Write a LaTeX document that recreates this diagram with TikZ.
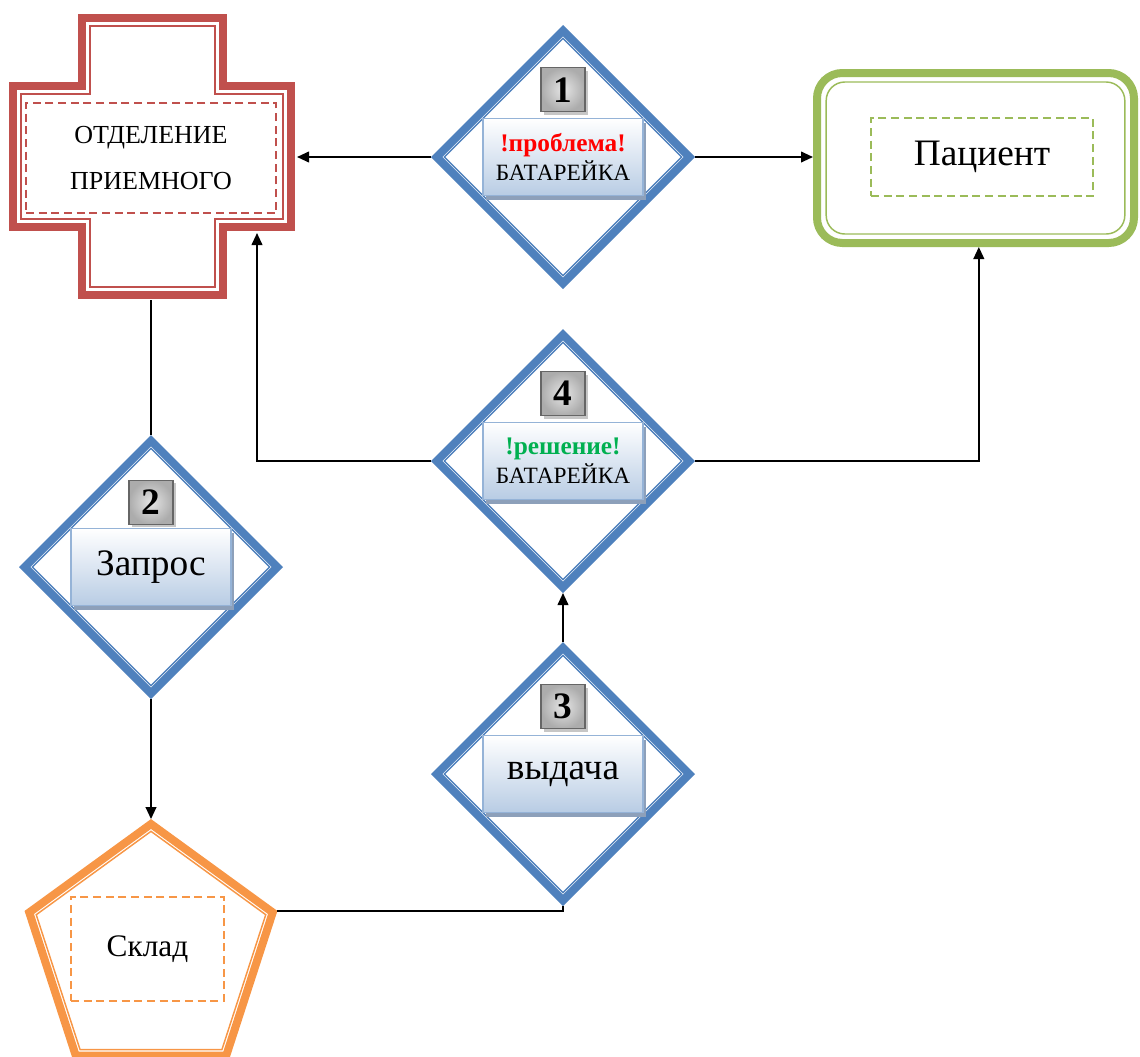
\documentclass[tikz,border=0pt]{standalone}
\usepackage{fontspec}
\setmainfont{Liberation Serif}
\usetikzlibrary{positioning,shapes.geometric,shadows,arrows.meta}
\definecolor{crossred}{HTML}{C0504D}
\definecolor{rhblue}{HTML}{4F81BD}
\definecolor{pacgreen}{HTML}{9BBB59}
\definecolor{pentorange}{HTML}{F79646}
\definecolor{lblborder}{HTML}{95B3D7}
\definecolor{lblfill}{HTML}{B8CCE4}
\definecolor{lblshadow}{HTML}{8DA0BA}
\definecolor{okgreen}{HTML}{00B050}

\begin{document}
\begin{tikzpicture}[x=0.75pt, y=-0.75pt, >={Triangle[length=9pt,width=8pt]},
  rhomb/.style={diamond, aspect=1, draw=rhblue, line width=6pt, minimum size=192pt, inner sep=0pt},
  rhombin/.style={diamond, aspect=1, draw=rhblue, line width=1.1pt, minimum size=178.5pt, inner sep=0pt},
  lbl/.style={rectangle, draw=lblborder, line width=1.1pt, top color=white, bottom color=lblfill,
    minimum width=120pt, minimum height=57.75pt, inner sep=0pt, align=center,
    font=\fontsize{17.5}{22}\selectfont,
    drop shadow={shadow xshift=2.2pt, shadow yshift=-3.7pt, fill=lblshadow, opacity=1}},
  numbox/.style={rectangle, draw=gray!80!black, line width=1.1pt, inner color=gray!20, outer color=gray!65,
    minimum size=33pt, inner sep=0pt, font=\fontsize{28}{30}\selectfont\bfseries,
    drop shadow={shadow xshift=2.2pt, shadow yshift=-2.2pt, fill=gray!45, opacity=1}},
  dashbox/.style={rectangle, dashed, dash pattern=on 6pt off 3.5pt, line width=1.1pt, inner sep=0pt, align=center},
  conn/.style={line width=1.4pt}]
  \useasboundingbox (0,0) rectangle (1140,1057);

  % Cross for the reception department: thick outline plus thin line inside
  \draw[crossred, line width=6pt] (82,18) -- (223,18) -- (223,86) -- (291,86) -- (291,227)
    -- (223,227) -- (223,295) -- (82,295) -- (82,227) -- (13,227) -- (13,86) -- (82,86) -- cycle;
  \draw[crossred, line width=1.1pt] (90,26) -- (215,26) -- (215,94) -- (283,94) -- (283,219)
    -- (215,219) -- (215,287) -- (90,287) -- (90,219) -- (21,219) -- (21,94) -- (90,94) -- cycle;
  \node[dashbox, draw=crossred, minimum width=187.5pt, minimum height=82.5pt,
    font=\fontsize{19.5}{34.5}\selectfont] (otd) at (151,158) {ОТДЕЛЕНИЕ\\ПРИЕМНОГО};
  \coordinate (cE) at (297,157);
  \coordinate (cS) at (151,300);
  \coordinate (cSE) at (257,233);

  % Patient box
  \node[draw=pacgreen, line width=6pt, rounded corners=19pt, minimum width=237.75pt,
    minimum height=127.5pt] (pac) at (975.5,158) {};
  \node[draw=pacgreen, line width=1.1pt, rounded corners=14pt, minimum width=224pt,
    minimum height=114pt] at (pac) {};
  \node[dashbox, draw=pacgreen, minimum width=166.5pt, minimum height=58.5pt,
    font=\fontsize{28}{30}\selectfont] (pacd) at (982,157) {Пациент};

  % Store pentagon
  \node[regular polygon, regular polygon sides=5, draw=pentorange, line width=6pt,
    minimum size=192pt, inner sep=0pt] (pent) at (151,952) {};
  \node[regular polygon, regular polygon sides=5, draw=pentorange, line width=1.1pt,
    minimum size=181pt, inner sep=0pt] at (pent) {};
  \node[dashbox, draw=pentorange, minimum width=114.75pt, minimum height=78pt,
    font=\fontsize{23.5}{26}\selectfont] (skl) at (147.5,949) {Склад};

  % Step diamonds, double blue line
  \foreach \n/\x/\y in {d1/563/157, d4/563/461, d2/151/567, d3/563/774} {
    \node[rhomb] (\n) at (\x,\y) {};
    \node[rhombin] at (\x,\y) {};
  }

  % Labels and step numbers
  \node[lbl] (l1) at (d1) {{\fontsize{19}{22}\selectfont\bfseries\color{red}!проблема!}\\БАТАРЕЙКА};
  \node[lbl] (l4) at (d4) {{\fontsize{19}{22}\selectfont\bfseries\color{okgreen}!решение!}\\БАТАРЕЙКА};
  \node[lbl, font=\fontsize{28}{30}\selectfont] (l2) at (d2) {Запрос};
  \node[lbl, font=\fontsize{28}{30}\selectfont] (l3) at (d3) {выдача};
  \node[numbox, above=4pt of l1] (n1) {1};
  \node[numbox, above=2pt of l2] (n2) {2};
  \node[numbox, above=4pt of l3] (n3) {3};
  \node[numbox, above=4pt of l4] (n4) {4};

  % Connectors
  \draw[conn, ->] (d1.west) -- (cE);
  \draw[conn, ->] (d1.east) -- (d1.east -| pac.west);
  \draw[conn, ->] (d4.west) -| (cSE);
  \draw[conn, ->] (d4.east) -| ([xshift=2.5pt]pac.south);
  \draw[conn] (cS) -- (d2.north);
  \draw[conn, ->] (d2.south) -- (d2.south |- pent.north);
  \draw[conn] (pent.corner 5) -| (d3.south);
  \draw[conn, ->] (d3.north) -- (d4.south);
\end{tikzpicture}
\end{document}
